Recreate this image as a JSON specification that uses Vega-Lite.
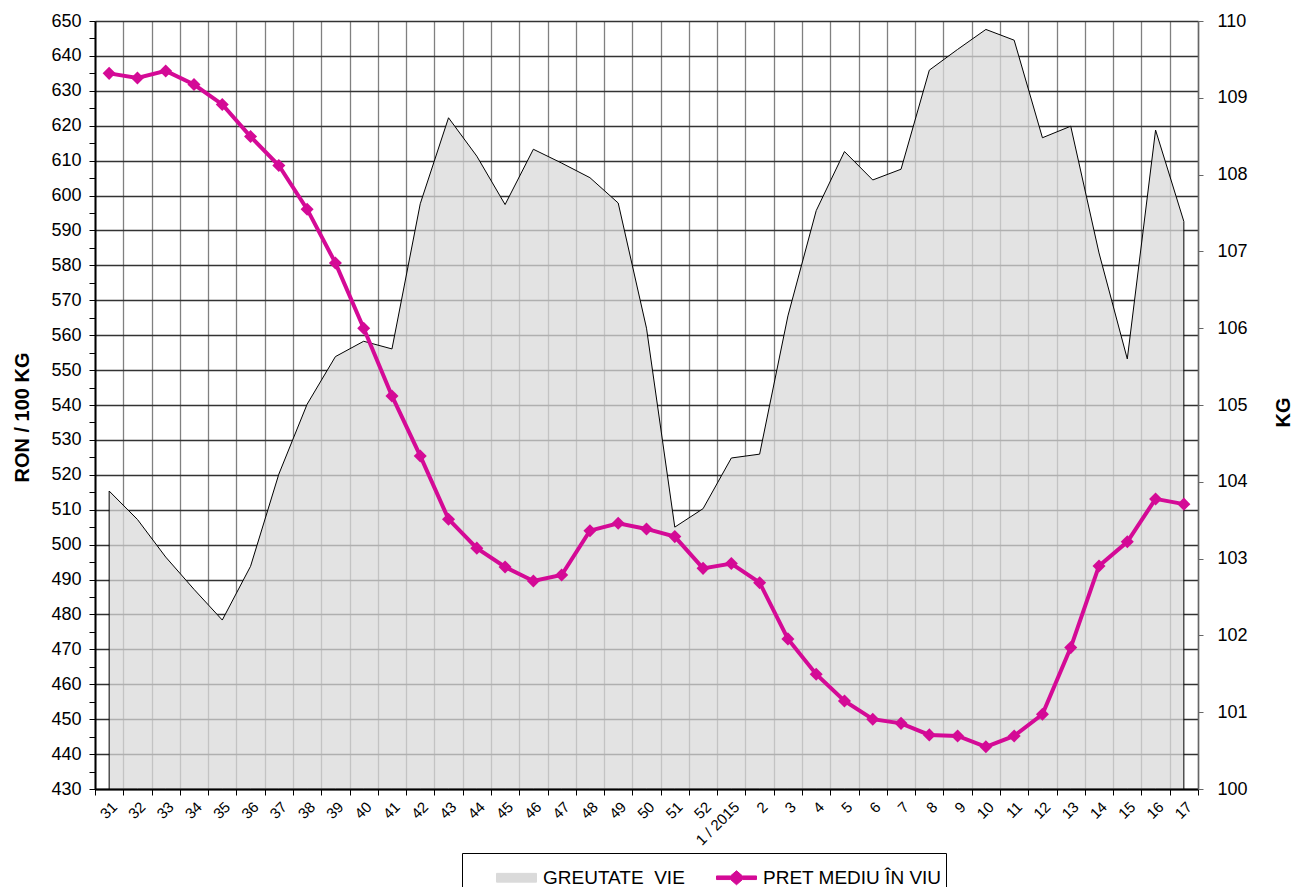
{
  "$schema": "https://vega.github.io/schema/vega-lite/v6.json",
  "width": 1103,
  "height": 768,
  "autosize": {"type": "none"},
  "padding": {"left": 95, "top": 21, "right": 95, "bottom": 98},
  "background": "white",
  "config": {
    "view": {"stroke": null},
    "font": "Liberation Sans",
    "axis": {"labelFont": "Liberation Sans", "titleFont": "Liberation Sans", "labelColor": "black", "titleColor": "black"},
    "legend": {
      "symbolType": "M-1,-0.22L1,-0.22L1,0.22L-1,0.22Z"
    }
  },
  "data": {
    "values": [
      {"week": "31", "price": 635.0, "kg": 103.88},
      {"week": "32", "price": 633.7, "kg": 103.51},
      {"week": "33", "price": 635.7, "kg": 103.02},
      {"week": "34", "price": 631.8, "kg": 102.6},
      {"week": "35", "price": 626.1, "kg": 102.2},
      {"week": "36", "price": 616.9, "kg": 102.9},
      {"week": "37", "price": 608.6, "kg": 104.1},
      {"week": "38", "price": 596.1, "kg": 105.01},
      {"week": "39", "price": 580.7, "kg": 105.63},
      {"week": "40", "price": 562.0, "kg": 105.83},
      {"week": "41", "price": 542.6, "kg": 105.73},
      {"week": "42", "price": 525.4, "kg": 107.62},
      {"week": "43", "price": 507.3, "kg": 108.74},
      {"week": "44", "price": 499.0, "kg": 108.24},
      {"week": "45", "price": 493.6, "kg": 107.61},
      {"week": "46", "price": 489.6, "kg": 108.33},
      {"week": "47", "price": 491.3, "kg": 108.15},
      {"week": "48", "price": 504.0, "kg": 107.96},
      {"week": "49", "price": 506.1, "kg": 107.63},
      {"week": "50", "price": 504.5, "kg": 106.0},
      {"week": "51", "price": 502.3, "kg": 103.41},
      {"week": "52", "price": 493.2, "kg": 103.65},
      {"week": "1 / 2015", "price": 494.6, "kg": 104.31},
      {"week": "2", "price": 489.1, "kg": 104.36},
      {"week": "3", "price": 473.0, "kg": 106.16},
      {"week": "4", "price": 462.9, "kg": 107.53},
      {"week": "5", "price": 455.2, "kg": 108.3},
      {"week": "6", "price": 450.0, "kg": 107.93},
      {"week": "7", "price": 448.8, "kg": 108.07},
      {"week": "8", "price": 445.5, "kg": 109.36},
      {"week": "9", "price": 445.2, "kg": 109.63},
      {"week": "10", "price": 442.1, "kg": 109.89},
      {"week": "11", "price": 445.2, "kg": 109.75},
      {"week": "12", "price": 451.4, "kg": 108.48},
      {"week": "13", "price": 470.5, "kg": 108.63},
      {"week": "14", "price": 493.9, "kg": 106.98},
      {"week": "15", "price": 500.8, "kg": 105.6},
      {"week": "16", "price": 513.1, "kg": 108.58},
      {"week": "17", "price": 511.6, "kg": 107.39}
    ]
  },
  "encoding": {
    "x": {
      "field": "week",
      "type": "ordinal",
      "bandPosition": 0.5,
      "scale": {
        "type": "band",
        "paddingInner": 0,
        "paddingOuter": 0,
        "domain": ["31","32","33","34","35","36","37","38","39","40","41","42","43","44","45","46","47","48","49","50","51","52","1 / 2015","2","3","4","5","6","7","8","9","10","11","12","13","14","15","16","17"]
      },
      "axis": {
        "title": null,
        "labelAngle": -45,
        "labelFontSize": 15,
        "labelPadding": 4,
        "labelOverlap": false,
        "tickBand": "extent",
        "tickSize": 6,
        "tickColor": "black",
        "domainColor": "black",
        "domainWidth": 2,
        "grid": true,
        "gridColor": "#808080",
        "gridWidth": 1.3
      }
    }
  },
  "layer": [
    {
      "mark": {"type": "area", "fillOpacity": 0.75, "stroke": "black", "strokeWidth": 1, "strokeOpacity": 1, "interpolate": "linear"},
      "encoding": {
        "y": {
          "field": "kg",
          "type": "quantitative",
          "scale": {"domain": [100, 110], "nice": false, "zero": false},
          "axis": {
            "orient": "right",
            "values": [100,101,102,103,104,105,106,107,108,109,110],
            "grid": false,
            "title": "KG",
            "titleFontSize": 20,
            "titleFontWeight": "bold",
            "titleAngle": 270,
            "titleX": 85,
            "titleY": 391,
            "titleBaseline": "middle",
            "labelFontSize": 18,
            "labelPadding": 14,
            "labelOverlap": false,
            "tickSize": 5,
            "tickColor": "#666666",
            "domainColor": "#666666",
            "domainWidth": 1.5
          }
        },
        "y2": {"datum": 100},
        "color": {
          "datum": "GREUTATE  VIE",
          "type": "nominal",
          "scale": {"domain": ["GREUTATE  VIE", "PRET MEDIU ÎN VIU"], "range": ["#dadada", "#d40a96"]},
          "legend": {
            "title": null,
            "orient": "none",
            "legendX": 367,
            "legendY": 832,
            "direction": "horizontal",
            "strokeColor": "black",
            "fillColor": "white",
            "padding": 4,
            "symbolSize": 1600,
            "symbolOffset": 30,
            "columnPadding": 1,
            "labelOffset": 6,
            "labelFontSize": 19,
            "labelFont": "Liberation Sans",
            "labelColor": "black",
            "labelLimit": 400,
            "labelExpr": "indexof(datum.label, 'PRET') === 0 ? datum.label + '\u2007\u2007\u2007' : replace(datum.label, '  ', '\u00a0 ')",
            "symbolStrokeWidth": 1,
            "symbolOpacity": 1,
            "encode": {
              "symbols": {
                "update": {
                  "shape": {"signal": "datum.value === 'GREUTATE  VIE' ? 'M-1,-0.22L1,-0.22L1,0.22L-1,0.22Z' : 'M-1,-0.09L-0.3,-0.09L0,-0.35L0.3,-0.09L1,-0.09L1,0.09L0.3,0.09L0,0.35L-0.3,0.09L-1,0.09Z'"},
                  "fill": {"signal": "datum.value === 'GREUTATE  VIE' ? '#e3e3e3' : '#d40a96'"},
                  "stroke": {"signal": "datum.value === 'GREUTATE  VIE' ? '#000000' : '#d40a96'"},
                  "strokeWidth": {"value": 1},
                  "strokeOpacity": {"value": 1}
                }
              }
            }
          }
        }
      }
    },
    {
      "encoding": {
        "y": {
          "field": "price",
          "type": "quantitative",
          "scale": {"domain": [430, 650], "nice": false, "zero": false},
          "axis": {
            "orient": "left",
            "values": [430,435,440,445,450,455,460,465,470,475,480,485,490,495,500,505,510,515,520,525,530,535,540,545,550,555,560,565,570,575,580,585,590,595,600,605,610,615,620,625,630,635,640,645,650],
            "labelExpr": "datum.value % 10 === 0 ? datum.label : ''",
            "labelOverlap": false,
            "grid": true,
            "gridColor": {"condition": {"test": "datum.value % 10 !== 0", "value": "transparent"}, "value": "#333333"},
            "gridWidth": 1.3,
            "title": "RON / 100 KG",
            "titleFontSize": 20,
            "titleFontWeight": "bold",
            "titleX": -73,
            "titleY": 396,
            "titleBaseline": "middle",
            "labelFontSize": 18,
            "labelPadding": 8,
            "tickSize": 6,
            "tickColor": "black",
            "domainColor": "black",
            "domainWidth": 2
          }
        }
      },
      "layer": [
        {
          "mark": {"type": "line", "strokeWidth": 4},
          "encoding": {
            "color": {
              "datum": "PRET MEDIU ÎN VIU",
              "type": "nominal",
              "legend": {
                "title": null,
                "orient": "none",
                "legendX": 367,
                "legendY": 832,
                "direction": "horizontal",
                "strokeColor": "black",
                "fillColor": "white",
                "padding": 4,
                "symbolSize": 1600,
                "symbolOffset": 30,
                "columnPadding": 1,
                "labelOffset": 6,
                "labelFontSize": 19,
                "labelFont": "Liberation Sans",
                "labelColor": "black",
                "labelLimit": 400,
                "labelExpr": "indexof(datum.label, 'PRET') === 0 ? datum.label + '\u2007\u2007\u2007' : replace(datum.label, '  ', '\u00a0 ')",
                "symbolStrokeWidth": 1,
                "symbolOpacity": 1,
                "encode": {
                  "symbols": {
                    "update": {
                      "shape": {"signal": "datum.value === 'GREUTATE  VIE' ? 'M-1,-0.22L1,-0.22L1,0.22L-1,0.22Z' : 'M-1,-0.09L-0.3,-0.09L0,-0.35L0.3,-0.09L1,-0.09L1,0.09L0.3,0.09L0,0.35L-0.3,0.09L-1,0.09Z'"},
                      "fill": {"signal": "datum.value === 'GREUTATE  VIE' ? '#e3e3e3' : '#d40a96'"},
                      "stroke": {"signal": "datum.value === 'GREUTATE  VIE' ? '#000000' : '#d40a96'"},
                      "strokeWidth": {"value": 1},
                      "strokeOpacity": {"value": 1}
                    }
                  }
                }
              }
            }
          }
        },
        {
          "mark": {"type": "point", "shape": "diamond", "filled": true, "size": 170, "color": "#d40a96", "opacity": 1}
        }
      ]
    }
  ],
  "resolve": {"scale": {"y": "independent"}}
}
